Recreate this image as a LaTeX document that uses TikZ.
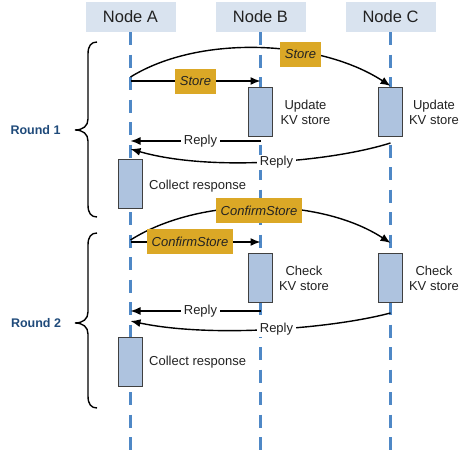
\documentclass[tikz,border=0pt]{standalone}
\usepackage{fontspec}
\setmainfont{Liberation Sans}
\usetikzlibrary{arrows.meta}
\definecolor{headfill}{HTML}{D9E3EF}
\definecolor{lifeblue}{HTML}{4F88C6}
\definecolor{actfill}{HTML}{AEC3DF}
\definecolor{actline}{HTML}{404040}
\definecolor{msggold}{HTML}{DBA826}
\definecolor{roundblue}{HTML}{1F4A7A}
\definecolor{inktext}{HTML}{222222}
\tikzset{
  header/.style={fill=headfill, minimum width=90pt, minimum height=30pt,
    inner sep=0pt, font=\fontsize{16.5}{18}\selectfont, text=inktext},
  lifeline/.style={draw=lifeblue, line width=2.7pt, dash pattern=on 13pt off 9.5pt},
  activation/.style={draw=actline, fill=actfill, line width=0.9pt,
    minimum width=24pt, minimum height=49pt, inner sep=0pt},
  msg/.style={draw=black, line width=1.4pt, -{Latex[length=10pt,width=8pt]}},
  msglabel/.style={fill=msggold, minimum height=25pt, inner xsep=5pt, inner ysep=0pt,
    font=\fontsize{13}{15}\itshape\selectfont, text=inktext},
  replylabel/.style={fill=white, inner xsep=3pt, inner ysep=1pt,
    font=\fontsize{13}{15}\selectfont, text=inktext},
  note/.style={align=center, inner sep=0pt, font=\fontsize{13}{15}\selectfont, text=inktext},
  roundlabel/.style={font=\fontsize{12.5}{14}\bfseries\selectfont, text=roundblue, inner sep=0pt},
  brace/.style={draw=black, line width=1.4pt}
}
\begin{document}
\begin{tikzpicture}[x=1pt,y=-1pt]
\useasboundingbox (0,0) rectangle (459,452);

% participants
\node[header] (hA) at (130.5,17) {Node A};
\node[header] (hB) at (260.5,17) {Node B};
\node[header] (hC) at (390.5,17) {Node C};

% lifeline ends
\coordinate (eA) at (130.5,452);
\coordinate (eB) at (260.5,452);
\coordinate (eC) at (390.5,452);
\draw[lifeline] (hA.south) -- (eA);
\draw[lifeline] (hB.south) -- (eB);
\draw[lifeline] (hC.south) -- (eC);

% activation boxes
\node[activation] (uB) at (260.5,111.5) {};
\node[activation] (uC) at (390.5,111.5) {};
\node[activation] (cA1) at (130.5,184) {};
\node[activation] (kB) at (260.5,278) {};
\node[activation] (kC) at (390.5,278) {};
\node[activation] (cA2) at (130.5,362) {};

% message end points on the lifelines
\coordinate (s1a) at (130.5,81);   \coordinate (s1b) at (260.5,81);
\coordinate (s2a) at (130.5,77);   \coordinate (s2c) at (390.5,86);
\coordinate (r1b) at (260.5,141);  \coordinate (r1a) at (130.5,141);
\coordinate (r2c) at (390.5,143);  \coordinate (r2a) at (130.5,149);
\coordinate (c1a) at (130.5,242);  \coordinate (c1b) at (260.5,242);
\coordinate (c2a) at (130.5,240);  \coordinate (c2c) at (390.5,243);
\coordinate (q1b) at (260.5,311);  \coordinate (q1a) at (130.5,311);
\coordinate (q2c) at (390.5,313);  \coordinate (q2a) at (130.5,321);

% round 1 messages
\draw[msg] (s1a) -- (s1b);
\draw[msg] (s2a) .. controls (200,34) and (320,40) .. (s2c);
\draw[msg] (r1b) -- (r1a);
\draw[msg] (r2c) .. controls (330,162) and (210,172) .. (r2a);

% round 2 messages
\draw[msg] (c1a) -- (c1b);
\draw[msg] (c2a) .. controls (200,196) and (320,197) .. (c2c);
\draw[msg] (q1b) -- (q1a);
\draw[msg] (q2c) .. controls (330,329) and (210,338) .. (q2a);

% message labels
\node[msglabel] (ls1) at (195.5,81.5) {Store};
\node[msglabel] (ls2) at (300.5,54.5) {Store};
\node[replylabel] (lr1) at (200.5,141) {Reply};
\node[replylabel] (lr2) at (276.5,162.5) {Reply};
\node[msglabel] (lc2) at (259,210.5) {ConfirmStore};
\node[msglabel] (lc1) at (190,242) {ConfirmStore};
\node[replylabel] (lq1) at (200.5,311) {Reply};
\node[replylabel] (lq2) at (276.5,329.5) {Reply};

% activity notes
\node[note] (nuB) at (305.5,112.5) {Update\\KV store};
\node[note] (nuC) at (434,112.5) {Update\\KV store};
\node[note, anchor=west] (ncA1) at (149,186) {Collect response};
\node[note] (nkB) at (304,278.5) {Check\\KV store};
\node[note] (nkC) at (434,278.5) {Check\\KV store};
\node[note, anchor=west] (ncA2) at (149,362) {Collect response};

% rounds
\draw[brace] (97,42) .. controls (91,42) and (88,46) .. (88,54) -- (88,119)
  .. controls (88,126) and (83,130) .. (75,130)
  .. controls (83,130) and (88,134) .. (88,141) -- (88,205)
  .. controls (88,213) and (91,217) .. (97,217);
\node[roundlabel] (rd1) at (35.5,130) {Round 1};
\draw[brace] (97,233) .. controls (91,233) and (88,237) .. (88,245) -- (88,312)
  .. controls (88,319) and (83,323) .. (75,323)
  .. controls (83,323) and (88,327) .. (88,334) -- (88,396)
  .. controls (88,404) and (91,408) .. (97,408);
\node[roundlabel] (rd2) at (36,323) {Round 2};
\end{tikzpicture}
\end{document}
